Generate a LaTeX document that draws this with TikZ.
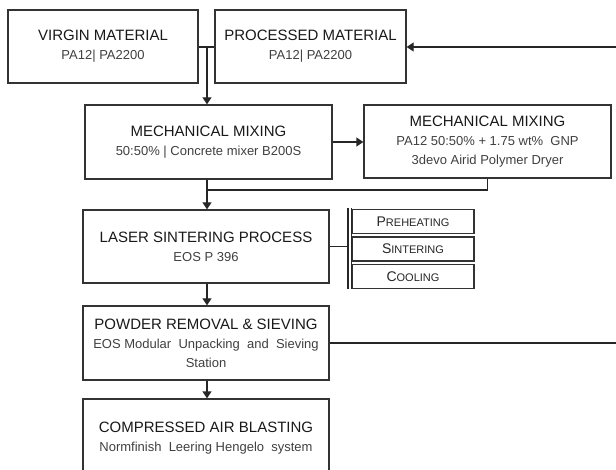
\documentclass[tikz,border=0pt]{standalone}
\usepackage{fontspec}
\setmainfont{Liberation Sans}
\usetikzlibrary{arrows.meta}
\newcommand{\boxtitle}[1]{{\fontsize{15}{19}\selectfont\color{black!90}#1}}
\newcommand{\boxsub}[1]{{\fontsize{13}{19}\selectfont\color{black!75}#1}}
\newcommand{\fakesc}[2]{{\fontsize{14}{14}\selectfont #1}{\fontsize{11}{14}\selectfont #2}}
\begin{document}
\begin{tikzpicture}[x=1pt,y=-1pt,
  box/.style={draw=black!80, line width=1.4pt, align=center, inner sep=0pt, font=\fontsize{13}{19}\selectfont},
  stagebox/.style={draw=black!80, line width=1.8pt, align=center, inner sep=0pt, minimum width=122pt, minimum height=24pt, text=black!85},
  conn/.style={draw=black!85, line width=1.4pt},
  arr/.style={conn, -{Triangle[width=9pt,length=7pt]}}]
\clip (0,0) rectangle (616,470);
\fill[white] (0,0) rectangle (616,470);

\node[box, minimum width=190pt, minimum height=73pt] (virgin) at (103,46.5)
  {\boxtitle{VIRGIN MATERIAL}\\\boxsub{PA12| PA2200}};
\node[box, minimum width=191pt, minimum height=73pt] (processed) at (310.5,46.5)
  {\boxtitle{PROCESSED MATERIAL}\\\boxsub{PA12| PA2200}};
\node[box, minimum width=247pt, minimum height=74pt] (mix1) at (208.5,142)
  {\boxtitle{MECHANICAL MIXING}\\\boxsub{50:50\% | Concrete mixer B200S}};
\node[box, minimum width=247pt, minimum height=73pt] (mix2) at (487.5,141.5)
  {\boxtitle{MECHANICAL MIXING}\\\boxsub{PA12 50:50\% + 1.75 wt\%\ \ GNP}\\\boxsub{3devo Airid Polymer Dryer}};
\node[box, minimum width=246pt, minimum height=73pt] (laser) at (206,246.5)
  {\boxtitle{LASER SINTERING PROCESS}\\\boxsub{EOS P 396}};
\node[stagebox] (pre) at (413,221.5) {\fakesc{P}{REHEATING}};
\node[stagebox] (sin) at (413,249) {\fakesc{S}{INTERING}};
\node[stagebox] (cool) at (413,276.5) {\fakesc{C}{OOLING}};
\node[box, minimum width=246pt, minimum height=74pt] (powder) at (206,343)
  {\boxtitle{POWDER REMOVAL \& SIEVING}\\\boxsub{EOS Modular\ \ Unpacking\ \ and\ \ Sieving}\\\boxsub{Station}};
\node[box, minimum width=246pt, minimum height=78pt] (compressed) at (206,438)
  {\boxtitle{COMPRESSED AIR BLASTING}\\\boxsub{Normfinish\ \ Leering Hengelo\ \ system}};

% connectors
\coordinate (j1) at (207,47);
\coordinate (rt1) at (616,47);
\coordinate (j2) at (207,190);
\coordinate (bar) at (348,248);
\coordinate (bartop) at (348,208);
\coordinate (barbot) at (348,289.5);
\coordinate (bartopb) at (351.5,208);
\coordinate (barbotb) at (351.5,289.5);
\coordinate (rt2) at (616,343);

\draw[conn] (virgin.east |- j1) -- (processed.west |- j1);
\draw[arr] (j1) -- (j1 |- mix1.north);
\draw[arr] (rt1) -- (processed.east |- rt1);
\draw[arr] (mix1.east) -- (mix1.east -| mix2.west);
\draw[conn] (mix2.south) |- (j2);
\draw[arr] (j1 |- mix1.south) -- (j1 |- laser.north);
\draw[conn] (laser.east) -- (laser.east -| bar);
\draw[conn] (bartop) -- (barbot);
\draw[conn] (bartopb) -- (barbotb);
\draw[arr] (j1 |- laser.south) -- (j1 |- powder.north);
\draw[conn] (powder.east) -- (powder.east -| rt2);
\draw[arr] (j1 |- powder.south) -- (j1 |- compressed.north);
\end{tikzpicture}
\end{document}
